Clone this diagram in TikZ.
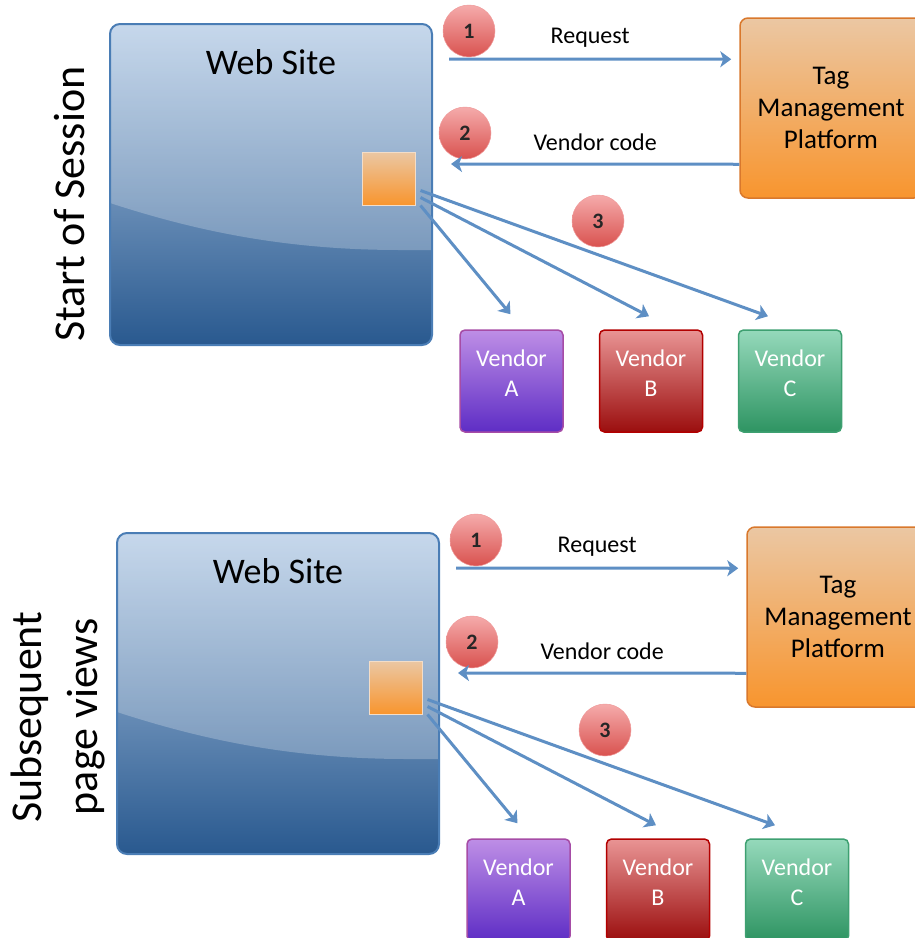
\documentclass[tikz,border=0pt]{standalone}
\usepackage{fontspec}
\setmainfont{Carlito}
\usetikzlibrary{calc}
\usetikzlibrary{arrows.meta}

\definecolor{wsedge}{HTML}{4A7DB5}
\definecolor{wstop}{HTML}{B5CCE6}
\definecolor{wsmid}{HTML}{6088B6}
\definecolor{wsbot}{HTML}{29598F}
\definecolor{tmpedge}{HTML}{D9782C}
\definecolor{tmptop}{HTML}{EBC7A3}
\definecolor{tmpmid}{HTML}{F2A35A}
\definecolor{tmpbot}{HTML}{F8952E}
\definecolor{flowblue}{HTML}{5E8FC4}
\definecolor{numtop}{HTML}{F5ABAB}
\definecolor{numbot}{HTML}{D9524F}

\begin{document}
\begin{tikzpicture}[x=1pt,y=-1pt,
    site/.style={draw=wsedge,line width=2pt,rounded corners=10pt,minimum width=322pt,minimum height=321pt,inner sep=0pt,
      top color=wstop,middle color=wsmid,bottom color=wsbot,
      path picture={\fill[white,opacity=0.24,sharp corners]
        (path picture bounding box.north west) -- (path picture bounding box.north east)
        -- ([yshift=-226pt]path picture bounding box.north east)
        -- ([xshift=-32pt,yshift=-226pt]path picture bounding box.north east)
        .. controls ([xshift=170pt,yshift=-226pt]path picture bounding box.north west)
        and ([xshift=80pt,yshift=-205pt]path picture bounding box.north west)
        .. ([yshift=-179pt]path picture bounding box.north west) -- cycle;}},
    sitetext/.style={font=\fontsize{36}{36}\selectfont,text=black,inner sep=0pt},
    tagbox/.style={draw=tmptop!60!white,line width=1pt,minimum size=53pt,inner sep=0pt,top color=tmptop,middle color=tmpmid,bottom color=tmpbot},
    tmp/.style={draw=tmpedge,line width=1.5pt,rounded corners=8pt,minimum width=182pt,minimum height=180pt,
      top color=tmptop,middle color=tmpmid,bottom color=tmpbot,font=\fontsize{27}{32}\selectfont,align=center,text=black},
    vendor/.style={rounded corners=5pt,minimum width=103pt,minimum height=102pt,line width=1.5pt,inner sep=0pt,
      text=white,font=\fontsize{24}{30}\selectfont,align=center,text depth=16pt},
    vA/.style={draw=violet!70,top color={rgb,255:red,190;green,142;blue,230},middle color={rgb,255:red,138;green,69;blue,216},bottom color={rgb,255:red,94;green,45;blue,197}},
    vB/.style={draw=red!70!black,top color={rgb,255:red,233;green,148;blue,148},middle color={rgb,255:red,191;green,42;blue,42},bottom color={rgb,255:red,155;green,14;blue,14}},
    vC/.style={draw={rgb,255:red,62;green,160;blue,113},top color={rgb,255:red,149;green,217;blue,187},middle color={rgb,255:red,61;green,165;blue,115},bottom color={rgb,255:red,46;green,148;blue,98}},
    num/.style={circle,minimum size=52pt,inner sep=0pt,top color=numtop,bottom color=numbot,draw=numtop!80!numbot,line width=0.5pt,
      font=\fontsize{22}{22}\selectfont\bfseries,text=black!85},
    lbl/.style={font=\fontsize{24}{24}\selectfont,text=black,inner sep=0pt},
    side/.style={font=\fontsize{44}{56}\selectfont,rotate=90,align=center,text=black},
    flow/.style={draw=flowblue,line width=3pt,-{Stealth[length=11pt,width=16pt,inset=3pt]}}
  ]
  \path[use as bounding box,clip] (0,0) rectangle (915,938);

  % Side labels.
  \node[side] (s1) at (70,204) {Start of Session};
  \node[side] (s2) at (58,717) {Subsequent\\page views};

  % Start of session.
  \begin{scope}
    \node[site] (ws1) at (271,184.5) {};
    \node[sitetext] (wst1) at (271,62) {Web Site};
    \node[tagbox] (sq1) at (388.5,178.5) {};
    \node[tmp] (tmp1) at (831,108) {Tag\\Management\\Platform};
    \node[vendor,vA] (va1) at (511.5,381) {Vendor\\A};
    \node[vendor,vB] (vb1) at (651,381) {Vendor\\B};
    \node[vendor,vC] (vc1) at (790,381) {Vendor\\C};
    \node[num] (n11) at (469,31) {1};
    \node[num] (n21) at (465,133) {2};
    \node[num] (n31) at (598,221) {3};
    % Connections.
    \draw[flow] ($(ws1.north east)+(16,36)$) -- node[lbl,above=10pt] (rq1) {Request} ($(tmp1.north west)+(-8,42)$);
    \draw[flow] ($(tmp1.north west)+(0,147)$) -- node[lbl,above=12pt] (vcd1) {Vendor code} ($(ws1.north east)+(18,141)$);
    \draw[flow] ($(sq1.south east)+(5,0)$) -- ($(va1.north)+(-1,-15)$);
    \draw[flow] ($(sq1.south east)+(5,-8)$) -- ($(vb1.north)+(-2,-13)$);
    \draw[flow] ($(sq1.south east)+(5,-15)$) -- ($(vc1.north)+(-22,-13)$);
  \end{scope}

  % Subsequent page views.
  \begin{scope}[shift={(7,509)}]
    \node[site] (ws2) at (271,184.5) {};
    \node[sitetext] (wst2) at (271,62) {Web Site};
    \node[tagbox] (sq2) at (388.5,178.5) {};
    \node[tmp] (tmp2) at (831,108) {Tag\\Management\\Platform};
    \node[vendor,vA] (va2) at (511.5,381) {Vendor\\A};
    \node[vendor,vB] (vb2) at (651,381) {Vendor\\B};
    \node[vendor,vC] (vc2) at (790,381) {Vendor\\C};
    \node[num] (n12) at (469,31) {1};
    \node[num] (n22) at (465,133) {2};
    \node[num] (n32) at (598,221) {3};
    % Connections.
    \draw[flow] ($(ws2.north east)+(16,36)$) -- node[lbl,above=10pt] (rq2) {Request} ($(tmp2.north west)+(-8,42)$);
    \draw[flow] ($(tmp2.north west)+(0,147)$) -- node[lbl,above=12pt] (vcd2) {Vendor code} ($(ws2.north east)+(18,141)$);
    \draw[flow] ($(sq2.south east)+(5,0)$) -- ($(va2.north)+(-1,-15)$);
    \draw[flow] ($(sq2.south east)+(5,-8)$) -- ($(vb2.north)+(-2,-13)$);
    \draw[flow] ($(sq2.south east)+(5,-15)$) -- ($(vc2.north)+(-22,-13)$);
  \end{scope}
\end{tikzpicture}
\end{document}
